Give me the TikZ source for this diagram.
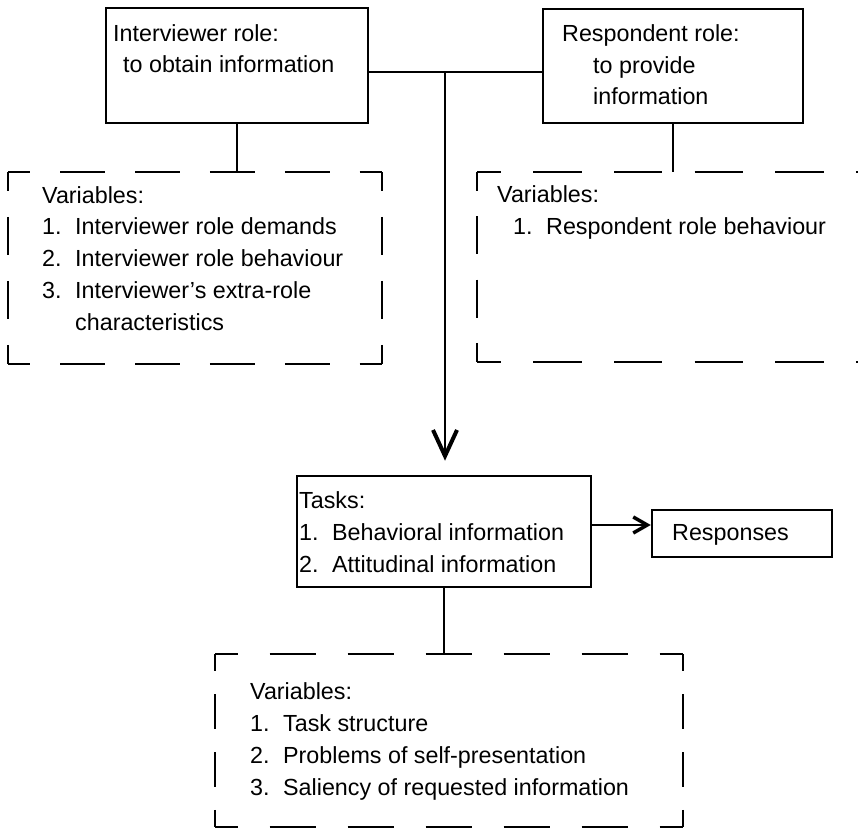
\documentclass[tikz,border=0pt]{standalone}
\usepackage{fontspec}
\setmainfont{Liberation Sans}
\usetikzlibrary{arrows.meta}
\newcommand{\numbox}[1]{\makebox[33pt][l]{#1}}
% dashed frame, each side with its own period so every corner gets a dash
\newcommand{\dashframe}[3]{%
  \draw[dashline,dashside=#2] (#1.north west) -- (#1.north east);
  \draw[dashline,dashside=#2] (#1.south west) -- (#1.south east);
  \draw[dashline,dashside=#3] (#1.north west) -- (#1.south west);
  \draw[dashline,dashside=#3] (#1.north east) -- (#1.south east);}

\begin{document}
\begin{tikzpicture}[x=1pt,y=-1pt,
    every node/.style={font=\fontsize{23.3}{31.7}\selectfont},
    solidbox/.style={draw,line width=2.5pt,inner sep=0pt},
    varbox/.style={inner sep=0pt,outer sep=0pt},
    dashline/.style={line width=2.4pt},
    dashside/.code={\pgfmathsetmacro\don{0.6*#1}\pgfmathsetmacro\doff{0.4*#1}%
      \pgfmathsetmacro\dph{0.3*#1}\tikzset{dash pattern=on \don pt off \doff pt,dash phase=\dph pt}},
    txt/.style={anchor=base west,align=left,inner sep=0pt},
    link/.style={line width=2.4pt}]
\useasboundingbox (0,0) rectangle (858,829);

% role boxes
\node[solidbox,minimum width=262pt,minimum height=115pt] (intv) at (237,65.5) {};
\node[solidbox,minimum width=260pt,minimum height=114pt] (resp) at (673,66) {};
\node[txt] (intvtext) at (113,73) {Interviewer role:\\\hspace*{10pt}to obtain information};
\node[txt] (resptext) at (562,105) {Respondent role:\\\hspace*{31pt}to provide\\\hspace*{31pt}information};

% variable boxes
\node[varbox,minimum width=374pt,minimum height=192pt] (intvvar) at (195,268) {};
\node[varbox,minimum width=403pt,minimum height=190pt] (respvar) at (678.5,267) {};
\dashframe{intvvar}{74.8}{64}
\dashframe{respvar}{80.6}{63.3}
\node[txt] (intvvartext) at (42,330) {Variables:\\
    \numbox{1.}Interviewer role demands\\
    \numbox{2.}Interviewer role behaviour\\
    \numbox{3.}Interviewer's extra-role\\
    \numbox{}characteristics};
\node[txt] (respvartext) at (497,234) {Variables:\\
    \hspace*{16pt}\numbox{1.}Respondent role behaviour};

% tasks and responses
\node[solidbox,minimum width=294pt,minimum height=111pt] (tasks) at (444,531.5) {};
\node[solidbox,minimum width=180pt,minimum height=47pt] (answers) at (742,533.5) {};
\node[txt] (taskstext) at (299,572) {Tasks:\\
    \numbox{1.}Behavioral information\\
    \numbox{2.}Attitudinal information};
\node[txt] (answerstext) at (672,540) {Responses};

\node[varbox,minimum width=468pt,minimum height=173pt] (taskvar) at (449,740.5) {};
\dashframe{taskvar}{78}{57.7}
\node[txt] (taskvartext) at (250,795) {Variables:\\
    \numbox{1.}Task structure\\
    \numbox{2.}Problems of self-presentation\\
    \numbox{3.}Saliency of requested information};

% connectors
\coordinate (junc) at (445,72);
\coordinate (outy) at (620,525);
\draw[link] (intv.east |- junc) -- (resp.west |- junc);
\draw[link,-{Straight Barb[length=26pt,width=24pt,line width=4pt]},shorten >=14pt] (junc) -- (junc |- tasks.north);
\draw[link,-{Straight Barb[length=14pt,width=16pt,line width=3.5pt]}] (tasks.east |- outy) -- (answers.west |- outy);
\draw[link] (intv.south) -- (intv.south |- intvvar.north);
\draw[link] (resp.south) -- (resp.south |- respvar.north);
\draw[link] (tasks.south) -- (tasks.south |- taskvar.north);
\end{tikzpicture}
\end{document}
